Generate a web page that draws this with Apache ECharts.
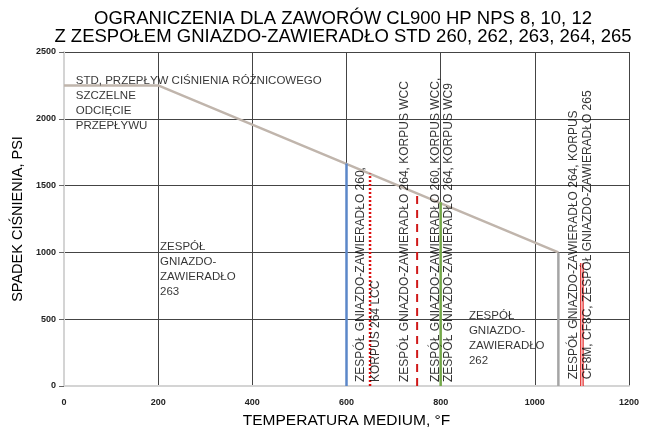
<!DOCTYPE html>
<html>
<head>
<meta charset="utf-8">
<script src="https://cdn.jsdelivr.net/npm/echarts@6/dist/echarts.min.js"></script>
<style>
  html, body { margin: 0; padding: 0; background: #fff; }
  #chart { width: 648px; height: 432px; }
</style>
</head>
<body>
<div id="chart"></div>
<script>
// STD limit line (temperature F, pressure drop psi)
const stdTemp = [0, 200, 1050];
const stdPsi = [2250, 2250, 1000];

// vertical limits for the seat/plug assemblies
const limitTemp = [600, 650, 750, 800, 1050, 1100];
const limitPsi = [1665, 1590, 1430, 1375, 1000, 920];

const xTicks = [0, 200, 400, 600, 800, 1000, 1200];
const yTicks = [0, 500, 1000, 1500, 2000, 2500];

const titleText = "OGRANICZENIA DLA ZAWORÓW CL900 HP NPS 8, 10, 12\nZ ZESPOŁEM GNIAZDO-ZAWIERADŁO STD 260, 262, 263, 264, 265";

// rotated notes, one per text line: [temp, psi, text]
const vNotes = [
  [631, 30, "ZESPÓŁ GNIAZDO-ZAWIERADŁO 260,"],
  [662, 30, "KORPUS 264 LCC"],
  [724, 30, "ZESPÓŁ GNIAZDO-ZAWIERADŁO 264, KORPUS WCC"],
  [790, 30, "ZESPÓŁ GNIAZDO-ZAWIERADŁO 260, KORPUS WCC,"],
  [818, 30, "ZESPÓŁ GNIAZDO-ZAWIERADŁO 264, KORPUS WC9"],
  [1083, 50, "ZESPÓŁ GNIAZDO-ZAWIERADŁO 264, KORPUS"],
  [1112, 50, "CF8M, CF8C, ZESPÓŁ GNIAZDO-ZAWIERADŁO 265"]
];
// horizontal notes: [temp, psi, text]
const hNotes = [
  [25, 2340, "STD, PRZEPŁYW CIŚNIENIA RÓŻNICOWEGO\nSZCZELNE\nODCIĘCIE\nPRZEPŁYWU"],
  [204, 1095, "ZESPÓŁ\nGNIAZDO-\nZAWIERADŁO\n263"],
  [860, 580, "ZESPÓŁ\nGNIAZDO-\nZAWIERADŁO\n262"]
];

const limitStyles = [
  { color: "#5b87c9", width: 2.5, type: "solid" },
  { color: "#e01010", width: 2.5, type: [2, 2] },
  { color: "#d01818", width: 2, type: [8, 6] },
  { color: "#74a84a", width: 2.5, type: "solid" },
  { color: "#a5a5a5", width: 2.5, type: "solid" },
  { color: "#e01818", width: 3.5, type: "solid" }
];

const font = "'Liberation Sans', Arial, sans-serif";
const tickFont = "'Liberation Sans Narrow', 'Liberation Sans', sans-serif";

const chart = echarts.init(document.getElementById("chart"), null, { renderer: "canvas" });

const series = [];
series.push({
  type: "line",
  data: stdTemp.map((t, i) => [t, stdPsi[i]]),
  symbol: "none",
  lineStyle: { color: "#c0b5ac", width: 2.5 },
  z: 3
});
limitTemp.forEach((t, i) => {
  series.push({
    type: "line",
    data: [[t, 0], [t, limitPsi[i]]],
    symbol: "none",
    lineStyle: limitStyles[i],
    z: 4
  });
});
// white core for the double red line at 1100 F
series.push({
  type: "line",
  data: [[limitTemp[5], 0], [limitTemp[5], limitPsi[5]]],
  symbol: "none",
  lineStyle: { color: "#ffffff", width: 1.2 },
  z: 5
});
series.push({
  type: "scatter",
  data: vNotes,
  symbolSize: 0,
  silent: true,
  z: 6,
  label: {
    show: true,
    position: [0, 0],
    rotate: 90,
    align: "left",
    verticalAlign: "middle",
    formatter: (p) => p.data[2],
    fontFamily: font,
    fontSize: 12,
    color: "#000"
  }
});
series.push({
  type: "scatter",
  data: hNotes,
  symbolSize: 0,
  silent: true,
  z: 6,
  label: {
    show: true,
    position: [0, 0],
    align: "left",
    verticalAlign: "top",
    lineHeight: 15,
    formatter: (p) => p.data[2],
    fontFamily: font,
    fontSize: 11.5,
    color: "#000"
  }
});

chart.setOption({
  animation: false,
  title: {
    text: titleText,
    left: 338,
    top: 5,
    textAlign: "center",
    textStyle: {
      fontFamily: font,
      fontSize: 18.5,
      fontWeight: "normal",
      lineHeight: 18,
      color: "#000"
    }
  },
  grid: { left: 64, right: 19, top: 52, bottom: 46, outerBoundsMode: "none" },
  xAxis: {
    type: "value",
    min: xTicks[0],
    max: xTicks[xTicks.length - 1],
    interval: 200,
    name: "TEMPERATURA MEDIUM, °F",
    nameLocation: "middle",
    nameGap: 27,
    nameTextStyle: { fontFamily: font, fontSize: 15.5, color: "#000" },
    axisLine: { lineStyle: { color: "#d4d4d4", width: 2 } },
    axisTick: { show: false },
    axisLabel: {
      margin: 12,
      fontFamily: tickFont,
      fontWeight: "bold",
      fontSize: 9,
      color: "#222",
      formatter: (v) => String(v)
    },
    splitLine: { lineStyle: { color: "#444", width: 1 } }
  },
  yAxis: {
    type: "value",
    min: yTicks[0],
    max: yTicks[yTicks.length - 1],
    interval: 500,
    name: "SPADEK CIŚNIENIA, PSI",
    nameLocation: "middle",
    nameGap: 35,
    nameTextStyle: { fontFamily: font, fontSize: 14.5, color: "#000" },
    axisLine: { show: true, lineStyle: { color: "#d4d4d4", width: 2 } },
    axisTick: { show: true, length: 5, lineStyle: { color: "#666" } },
    axisLabel: {
      margin: 8,
      fontFamily: tickFont,
      fontWeight: "bold",
      fontSize: 9,
      color: "#222",
      formatter: (v) => String(v)
    },
    splitLine: { lineStyle: { color: "#444", width: 1 } }
  },
  series: series
});
</script>
</body>
</html>
